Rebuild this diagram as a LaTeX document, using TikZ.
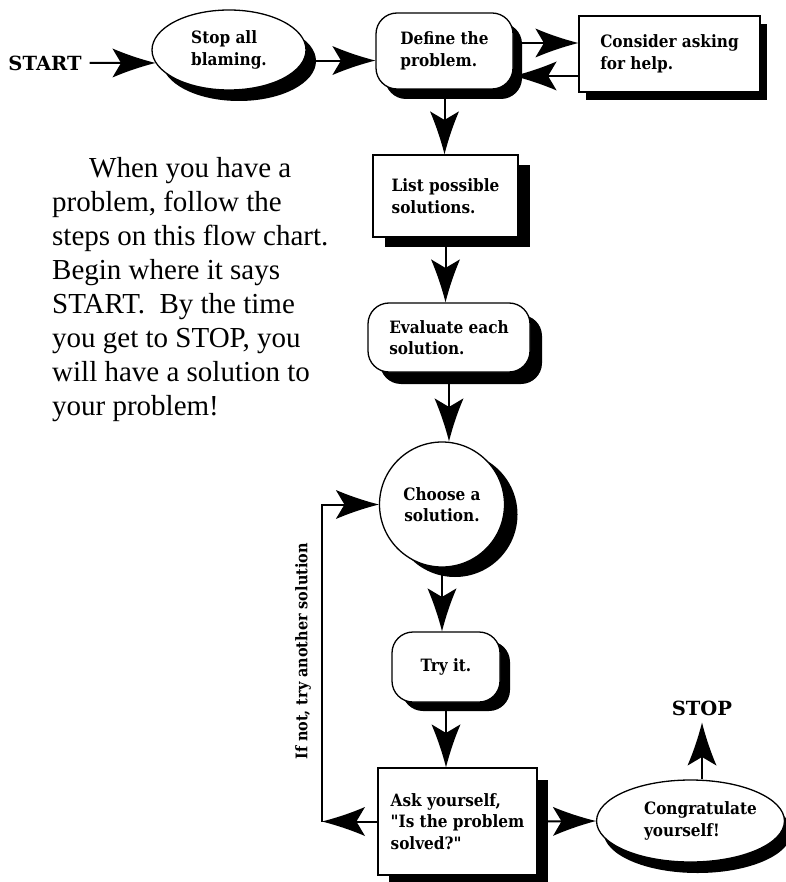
\documentclass[tikz,border=0pt]{standalone}
\usepackage{fontspec}
\usetikzlibrary{shapes.geometric,shadows,arrows.meta}
\newfontfamily\chartfont{DejaVu Serif Condensed}
\newfontfamily\headfont{DejaVu Serif}
\newfontfamily\introfont{Liberation Serif}

% a long filled dart with slightly hollow sides and a notched back
\pgfdeclarearrow{
  name = Dart,
  defaults = {length = 43pt, width = 29pt},
  setup code = {
    \pgfarrowssettipend{0pt}
    \pgfarrowssetbackend{-\pgfarrowlength}
    \pgfarrowssetvisualbackend{-.8\pgfarrowlength}
    \pgfarrowssetlineend{-.7\pgfarrowlength}
    \pgfarrowshullpoint{0pt}{0pt}
    \pgfarrowshullpoint{-\pgfarrowlength}{.5\pgfarrowwidth}
    \pgfarrowshullpoint{-\pgfarrowlength}{-.5\pgfarrowwidth}
    \pgfarrowssavethe\pgfarrowlength
    \pgfarrowssavethe\pgfarrowwidth
  },
  drawing code = {
    \pgfpathmoveto{\pgfqpoint{0pt}{0pt}}
    \pgfpathcurveto{\pgfqpoint{-.4\pgfarrowlength}{.15\pgfarrowwidth}}{\pgfqpoint{-.75\pgfarrowlength}{.34\pgfarrowwidth}}{\pgfqpoint{-\pgfarrowlength}{.5\pgfarrowwidth}}
    \pgfpathlineto{\pgfqpoint{-.8\pgfarrowlength}{0pt}}
    \pgfpathlineto{\pgfqpoint{-\pgfarrowlength}{-.5\pgfarrowwidth}}
    \pgfpathcurveto{\pgfqpoint{-.75\pgfarrowlength}{-.34\pgfarrowwidth}}{\pgfqpoint{-.4\pgfarrowlength}{-.15\pgfarrowwidth}}{\pgfqpoint{0pt}{0pt}}
    \pgfpathclose
    \pgfusepathqfill
  },
  parameters = {\the\pgfarrowlength,\the\pgfarrowwidth},
}

\tikzset{
  conn/.style={line width=2pt,-{Dart}},
  shadowed/.style 2 args={drop shadow={shadow xshift=#1,shadow yshift=#2,opacity=1,fill=black}},
  chart/.style={draw,line width=1.3pt,fill=white,align=left,inner sep=0pt,
    font=\chartfont\bfseries\fontsize{17}{21.5}\selectfont},
  squarebox/.style={chart,rectangle},
  roundbox/.style={chart,rectangle,rounded corners=21pt},
  oval/.style={chart,ellipse},
  bigword/.style={inner sep=0pt,font=\headfont\bfseries\fontsize{19.5}{22}\selectfont},
}

\begin{document}
\begin{tikzpicture}[x=1pt,y=-1pt]
\useasboundingbox (0,0) rectangle (785,882);

% introductory paragraph
\node[anchor=base west,inner sep=0pt] (intro) at (52,178)
  {\parbox[t]{340pt}{\raggedright\introfont\fontsize{29}{34}\selectfont
   \hspace*{37pt}When you have a\\
   problem, follow the\\
   steps on this flow chart.\\
   Begin where it says\\
   START.\hspace{0.5em}By the time\\
   you get to STOP, you\\
   will have a solution to\\
   your problem!}};

% steps of the chart
\node[bigword] (start) at (45,63) {START};
\node[oval,shadowed={10pt}{-11pt},minimum width=154pt,minimum height=80pt]
  (blame) at (229,50) {Stop all\\blaming.};
\node[roundbox,shadowed={9pt}{-10pt},minimum width=137pt,minimum height=76pt]
  (define) at (444.5,51) {Define the\\problem.};
\node[squarebox,shadowed={7pt}{-8pt},minimum width=181pt,minimum height=76pt]
  (helpbox) at (669.5,54) {Consider asking\\for help.};
\node[squarebox,shadowed={12pt}{-10pt},minimum width=145pt,minimum height=82pt]
  (list) at (445.5,196) {List possible\\solutions.};
\node[roundbox,shadowed={12pt}{-12pt},minimum width=162pt,minimum height=69pt]
  (evaluate) at (449,337.5) {Evaluate each\\solution.};
\node[chart,circle,align=center,shadowed={13pt}{-10pt},minimum size=125pt]
  (choose) at (442,504.5) {Choose a\\solution.};
\node[roundbox,shadowed={10pt}{-9pt},minimum width=108pt,minimum height=70pt]
  (try) at (446,667) {Try it.};
\node[squarebox,shadowed={11pt}{-12pt},minimum width=159pt,minimum height=107pt]
  (ask) at (457.5,821.5) {Ask yourself,\\"Is the problem\\solved?"};
\node[oval,shadowed={7pt}{-11pt},minimum width=175pt,minimum height=82pt]
  (congrats) at (690.5,821)
  {\begin{tabular}{@{\hspace{20pt}}l@{}}Congratulate\\yourself!\end{tabular}};
\node[bigword,inner sep=4pt] (stop) at (702,708) {STOP};
\node[rotate=90,inner sep=0pt,font=\chartfont\bfseries\fontsize{16}{19}\selectfont]
  (retry) at (303,651.5) {If not, try another solution};

% helper points
\coordinate (loop) at (322,0);
\coordinate (helpout) at ([yshift=8pt]define.east);
\coordinate (helpback) at ([yshift=-25pt]define.east);

% connectors
\draw[conn] ([xshift=8pt]start.east) -- (blame.190);
\draw[conn] (blame.352) -- (blame.352 -| define.west);
\draw[conn] (helpout) -- (helpout -| helpbox.west);
\draw[conn] (helpback -| helpbox.west) -- (helpback);
\draw[conn] (define.south) -- (define.south |- list.north);
\draw[conn] (list.south) -- (list.south |- evaluate.north);
\draw[conn] (evaluate.south) -- (evaluate.south |- choose.north);
\draw[conn] (choose.south) -- (choose.south |- try.north);
\draw[conn] (try.south) -- (try.south |- ask.north);
\draw[conn] (ask.west) -- (ask.west -| loop);
\draw[conn] (ask.west -| loop) -- (choose.west -| loop) -- (choose.west);
\draw[conn] (ask.east) -- (congrats.west);
\draw[conn] (stop.south |- congrats.north) -- ([yshift=-3pt]stop.south);
\end{tikzpicture}
\end{document}
